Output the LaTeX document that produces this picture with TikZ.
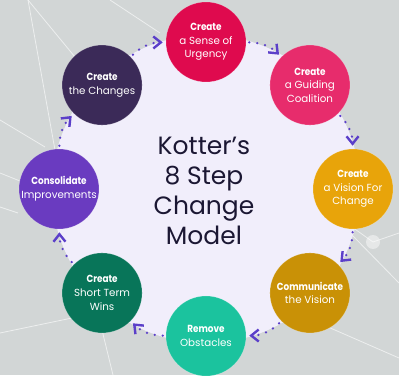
\documentclass[tikz,border=0pt]{standalone}
\usepackage{fontspec}
\setmainfont{Poppins}[BoldFeatures={FakeStretch=0.86}]
\usetikzlibrary{arrows.meta}
\definecolor{bgc}{HTML}{D2D6D6}
\definecolor{lav}{HTML}{F1EEFB}
\definecolor{arr}{HTML}{5B3FC9}
\definecolor{cUrg}{HTML}{DF0A4E}
\definecolor{cCoa}{HTML}{E72C6C}
\definecolor{cVis}{HTML}{E8A40A}
\definecolor{cCom}{HTML}{C99106}
\definecolor{cRem}{HTML}{1BC39E}
\definecolor{cWin}{HTML}{087559}
\definecolor{cCon}{HTML}{6A3BC0}
\definecolor{cCha}{HTML}{3B2A58}
\definecolor{ttl}{HTML}{1B1733}
\tikzset{
  stepnode/.style={circle, minimum size=80pt, inner sep=0pt, fill=#1,
    draw=white, draw opacity=0.25, line width=0.6pt,
    text=white, align=center, font=\fontsize{10.3}{13.6}\selectfont},
  conn/.style={arr, line width=2.6pt, line cap=round,
    dash pattern=on 0pt off 8pt, shorten <=3pt, shorten >=3pt,
    -{Straight Barb[length=7.5pt 0 0, width=12pt 0 0, line width=2.4pt 0 0]}},
  bgline/.style={white, opacity=0.6, line width=0.8pt}
}
\begin{document}
\begin{tikzpicture}[x=1pt,y=1pt]
\useasboundingbox (0,0) rectangle (399,375);
\fill[bgc] (0,0) rectangle (399,375);
% background lines (y = 375 - screen y)
\draw[bgline] (28,375) -- (75,318);
\draw[bgline] (28,375) -- (55,225);
\draw[bgline] (0,255) -- (45,228);
\draw[bgline] (0,202) -- (20,194);
\draw[bgline] (0,168) -- (18,162);
\draw[bgline] (0,42) -- (72,57);
\draw[bgline] (102,45) -- (113,0);
\draw[bgline] (110,375) -- (160,342);
\draw[bgline] (352,140) -- (399,92);
\draw[bgline] (352,148) -- (373,133) -- (399,142);
\draw[bgline] (328,48) -- (399,17);
\fill[white, opacity=0.45] (373,133) circle (7);
% lavender disc
\coordinate (c) at (206,186);
\fill[lav] (c) circle (154);
% title
\node[text=ttl, align=center, font=\fontsize{25}{30}\selectfont] (title) at (204,184)
  {Kotter’s\\8 Step\\Change\\Model};
% step circles
\node[stepnode=cUrg] (n1) at ([shift={(90:147)}]c) {\textbf{Create}\\a Sense of\\Urgency};
\node[stepnode=cCoa] (n2) at ([shift={(45:147)}]c) {\textbf{Create}\\a Guiding\\Coalition};
\node[stepnode=cVis] (n3) at ([shift={(0:147)}]c) {\textbf{Create}\\a Vision For\\Change};
\node[stepnode=cCom] (n4) at ([shift={(-45:147)}]c) {\textbf{Communicate}\\the Vision};
\node[stepnode=cRem] (n5) at ([shift={(-90:147)}]c) {\textbf{Remove}\\Obstacles};
\node[stepnode=cWin] (n6) at ([shift={(-135:147)}]c) {\textbf{Create}\\Short Term\\Wins};
\node[stepnode=cCon] (n7) at ([shift={(180:147)}]c) {\textbf{Consolidate}\\Improvements};
\node[stepnode=cCha] (n8) at ([shift={(135:147)}]c) {\textbf{Create}\\the Changes};
% connectors
\draw[conn] (n1) to[bend left=22] (n2);
\draw[conn] (n2) to[bend left=22] (n3);
\draw[conn] (n3) to[bend left=22] (n4);
\draw[conn] (n4) to[bend left=22] (n5);
\draw[conn] (n5) to[bend left=22] (n6);
\draw[conn] (n6) to[bend left=22] (n7);
\draw[conn] (n7) to[bend left=22] (n8);
\draw[conn] (n8) to[bend left=22] (n1);
\end{tikzpicture}
\end{document}
